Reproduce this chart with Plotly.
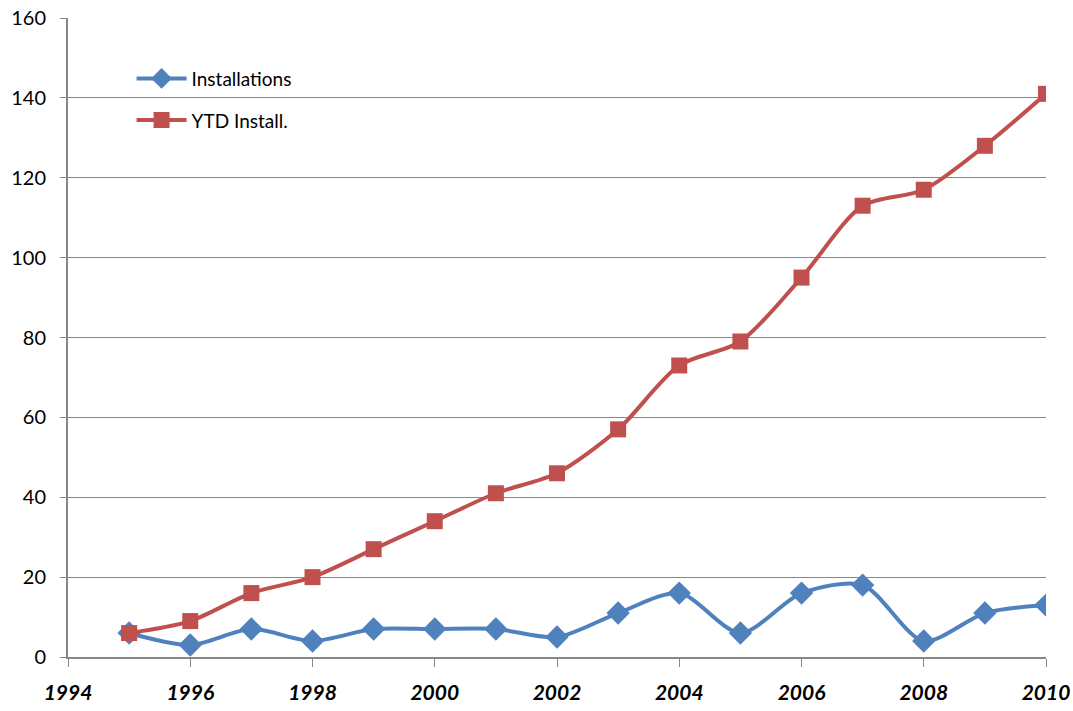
import plotly.graph_objects as go

years = [1995, 1996, 1997, 1998, 1999, 2000, 2001, 2002, 2003, 2004, 2005, 2006, 2007, 2008, 2009, 2010]
installations = [6, 3, 7, 4, 7, 7, 7, 5, 11, 16, 6, 16, 18, 4, 11, 13]
ytd_install = [6, 9, 16, 20, 27, 34, 41, 46, 57, 73, 79, 95, 113, 117, 128, 141]
x_ticks = [1994, 1996, 1998, 2000, 2002, 2004, 2006, 2008, 2010]
y_ticks = [0, 20, 40, 60, 80, 100, 120, 140, 160]

FONT = "Lato, 'Open Sans', sans-serif"
GRID = "#868686"

fig = go.Figure()
fig.add_trace(go.Scatter(
    x=years, y=installations, name="Installations", mode="lines+markers",
    legendgroup="a",
    line=dict(color="#4F81BD", width=4, shape="spline", smoothing=0.8),
    marker=dict(symbol="diamond", size=18, color="#4F81BD"),
))
fig.add_trace(go.Scatter(
    x=years, y=ytd_install, name="YTD Install.", mode="lines+markers",
    legendgroup="b",
    line=dict(color="#C0504D", width=4, shape="spline", smoothing=0.8),
    marker=dict(symbol="square", size=16, color="#C0504D"),
))

fig.update_layout(
    width=1073, height=711,
    margin=dict(l=68, r=27, t=18, b=54, autoexpand=False),
    paper_bgcolor="white", plot_bgcolor="white",
    font=dict(family=FONT, color="black"),
    showlegend=True,
    legend=dict(x=0.065, y=0.935, xanchor="left", yanchor="top",
                bgcolor="rgba(0,0,0,0)", font=dict(size=19, family=FONT),
                itemwidth=50, traceorder="grouped", tracegroupgap=14),
    xaxis=dict(
        range=[1994, 2010], tickvals=x_ticks, ticktext=[str(t) for t in x_ticks],
        showgrid=False, zeroline=False, showline=True, linecolor=GRID, linewidth=2,
        ticks="outside", ticklen=8, tickcolor=GRID, tickwidth=1,
        tickfont=dict(size=21, family=FONT, weight="bold", style="italic"),
        ticklabelstandoff=8, automargin=False, ticklabeloverflow="allow",
    ),
    yaxis=dict(
        range=[0, 160], tickvals=y_ticks,
        showgrid=True, gridcolor=GRID, gridwidth=1, zeroline=False,
        showline=True, linecolor=GRID, linewidth=2,
        ticks="outside", ticklen=6, tickcolor=GRID, tickwidth=1,
        tickfont=dict(size=20, family=FONT),
        ticklabelstandoff=10, automargin=False, ticklabeloverflow="allow",
    ),
)

fig.write_html("out.html", config={"displayModeBar": False},
               post_script="document.body.style.margin='0';document.body.style.overflow='hidden';")
